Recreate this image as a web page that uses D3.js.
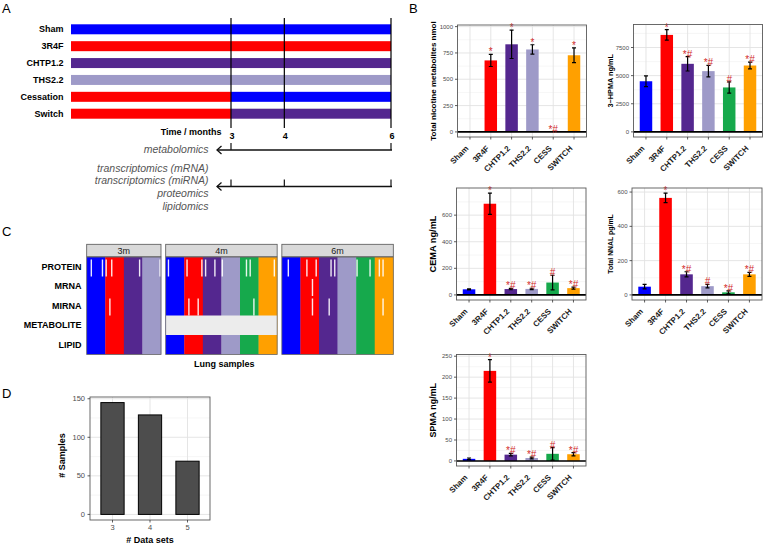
<!doctype html>
<html lang="en">
<head>
<meta charset="UTF-8" />
<title>Study design and exposure figure</title>
<script src="https://d3js.org/d3.v7.min.js"></script>
<style>
  html,body{margin:0;padding:0;background:#fff;}
  svg{display:block;font-family:"Liberation Sans",Arial,Helvetica,sans-serif;}
</style>
</head>
<body>
<div id="chart"></div>
<script>
/* ───── data ───── */
const groups      = ["Sham","3R4F","CHTP1.2","THS2.2","CESS","SWITCH"];
const groupColors = ["#0000ff","#ff0000","#54278f","#9e9ac8","#16a94c","#ffa000"];

// A – study design
const armLabels = ["Sham","3R4F","CHTP1.2","THS2.2","Cessation","Switch"];
const armBefore = ["Sham","3R4F","CHTP1.2","THS2.2","3R4F","3R4F"];     // 0–3 months
const armAfter  = ["Sham","3R4F","CHTP1.2","THS2.2","Sham","CHTP1.2"];  // 3–6 months
const timeTicks  = [3,4,6];
const metabTimes = [3,6];
const omicsTimes = [3,4,6];
const omicsNames = ["transcriptomics (mRNA)","transcriptomics (miRNA)","proteomics","lipidomics"];

// B – biomarkers of exposure
const nicMean  = [0,679,832,783,0,728];
const nicErr   = [0,58,135,45,0,70];
const nicSig   = ["","*","*","*","*#","*"];
const nicTicks = [0,250,500,750,1000];

const hpmaMean  = [4500,8620,6050,5400,3950,5900];
const hpmaErr   = [470,470,640,510,500,300];
const hpmaSig   = ["","*","*#","*#","#","*#"];
const hpmaTicks = [0,2500,5000,7500];

const cemaMean  = [42,686,44,45,93,51];
const cemaErr   = [4,80,5,5,55,8];
const cemaSig   = ["","*","*#","*#","#","*#"];
const cemaTicks = [0,200,400,600];

const nnalMean  = [48,566,120,51,15,120];
const nnalErr   = [13,28,15,10,9,12];
const nnalSig   = ["","*","*#","#","*#","*#"];
const nnalTicks = [0,200,400,600];

const spmaMean  = [5,215,15,7,17,16];
const spmaErr   = [2,27,3,2,15,4];
const spmaSig   = ["","*","*#","*#","#","*#"];
const spmaTicks = [0,50,100,150,200,250];

// C – sample overview
const facetNames      = ["3m","4m","6m"];
const facetGroupCount = [4,6,6];
const samplesPerGroup = 10;
const omicsRows = ["PROTEIN","MRNA","MIRNA","METABOLITE","LIPID"];
const sampleGaps = [
  ["3m","PROTEIN",2],["3m","PROTEIN",8],["3m","PROTEIN",10],["3m","PROTEIN",13],["3m","PROTEIN",28],["3m","PROTEIN",39],
  ["3m","MIRNA",12],
  ["4m","PROTEIN",1],["4m","PROTEIN",11],["4m","PROTEIN",19],["4m","PROTEIN",21],["4m","PROTEIN",26],["4m","PROTEIN",30],
  ["4m","PROTEIN",43],["4m","PROTEIN",45],["4m","PROTEIN",58],
  ["4m","MIRNA",12],["4m","MIRNA",17],["4m","MIRNA",47],
  ["6m","PROTEIN",3],["6m","PROTEIN",13],["6m","PROTEIN",18],["6m","PROTEIN",26],["6m","PROTEIN",28],["6m","PROTEIN",40],
  ["6m","PROTEIN",47],["6m","PROTEIN",52],["6m","PROTEIN",54],
  ["6m","MRNA",16],["6m","MIRNA",16],["6m","MIRNA",25],["6m","MIRNA",54]
];
const emptyRows = [["4m","METABOLITE"]];

// D – samples per number of data sets
const dataSetCounts = ["3","4","5"];
const sampleCounts  = [145,129,69];
const dTicks        = [0,50,100,150];

/* ───── setup ───── */
const W=764, H=545;
const svg=d3.select('#chart').append('svg').attr('width',W).attr('height',H);
const colorOf=d3.scaleOrdinal().domain(groups).range(groupColors);
['A','B','C','D'].forEach((t,i)=>{
  const pos=[[2,13],[409,13],[2,236],[2,398]][i];
  svg.append('text').attr('x',pos[0]).attr('y',pos[1]).style('font-size','13px').text(t);
});

/* ───── A: study design ───── */
const gA=svg.append('g');
const xTime=d3.scaleLinear().domain([0,6]).range([71,391]);
const yArm=d3.scaleBand().domain(armLabels).range([24.3,118.7]).paddingInner(0.408).paddingOuter(0);

armLabels.forEach((lab,i)=>{
  gA.append('rect').attr('x',xTime(0)).attr('y',yArm(lab)).attr('width',xTime(3)-xTime(0))
    .attr('height',yArm.bandwidth()).attr('fill',colorOf(armBefore[i]));
  gA.append('rect').attr('x',xTime(3)).attr('y',yArm(lab)).attr('width',xTime(6)-xTime(3))
    .attr('height',yArm.bandwidth()).attr('fill',colorOf(armAfter[i]));
  gA.append('text').attr('x',63.5).attr('y',yArm(lab)+yArm.bandwidth()/2+3.2)
    .attr('text-anchor','end').style('font-size','9px').style('font-weight','bold').text(lab);
});
timeTicks.forEach(t=>{
  gA.append('line').attr('x1',xTime(t)).attr('x2',xTime(t)).attr('y1',18).attr('y2',128)
    .attr('stroke','#000').attr('stroke-width',1.2);
  gA.append('text').attr('x',xTime(t)+1).attr('y',139).attr('text-anchor','middle')
    .style('font-size','9px').style('font-weight','bold').text(t);
});
gA.append('text').attr('x',221.5).attr('y',135).attr('text-anchor','end')
  .style('font-size','9px').style('font-weight','bold').text('Time / months');

function drawArrow(y,times){
  gA.append('line').attr('x1',217).attr('x2',xTime(6)+1).attr('y1',y).attr('y2',y)
    .attr('stroke','#111').attr('stroke-width',1.3);
  gA.append('path').attr('d',`M221.5,${y-4}L217,${y}L221.5,${y+4}`)
    .attr('fill','none').attr('stroke','#111').attr('stroke-width',1.3);
  times.forEach(t=>gA.append('line').attr('x1',xTime(t)).attr('x2',xTime(t))
    .attr('y1',y-7).attr('y2',y).attr('stroke','#111').attr('stroke-width',1.2));
}
drawArrow(150,metabTimes);
drawArrow(186.5,omicsTimes);
const italic=sel=>sel.attr('text-anchor','end').style('font-size','10.5px')
  .style('font-style','italic').attr('fill','#555');
gA.append('text').attr('x',208.5).attr('y',153).call(italic).text('metabolomics');
omicsNames.forEach((n,i)=>gA.append('text').attr('x',208.5).attr('y',171.5+i*12.8).call(italic).text(n));

/* ───── B: bar panels ───── */
function barPanel(cfg){
  const {x0,x1,y0,y1,means,errs,sigs,ticks,title,titleSize,titleX}=cfg;
  const g=svg.append('g');
  const x=d3.scaleBand().domain(groups).range([x0,x1]).paddingInner(0.4).paddingOuter(0.3);
  const hi=d3.max(means.map((m,i)=>m+errs[i])), pad=hi*0.05;
  const y=d3.scaleLinear().domain([-pad,hi+pad]).range([y1,y0]);
  const step=ticks[1]-ticks[0];
  const minor=d3.range(-1,ticks.length).map(i=>ticks[0]+step*(i+0.5))
    .filter(v=>v>y.domain()[0]&&v<y.domain()[1]);
  g.selectAll('.mi').data(minor).join('line').attr('x1',x0).attr('x2',x1)
    .attr('y1',d=>y(d)).attr('y2',d=>y(d)).attr('stroke','#f0f0f0').attr('stroke-width',0.6);
  g.selectAll('.ma').data(ticks).join('line').attr('x1',x0).attr('x2',x1)
    .attr('y1',d=>y(d)).attr('y2',d=>y(d)).attr('stroke','#e2e2e2').attr('stroke-width',0.9);
  const cx=d=>x(d)+x.bandwidth()/2;
  g.selectAll('.gx').data(groups).join('line').attr('x1',cx).attr('x2',cx)
    .attr('y1',y0).attr('y2',y1).attr('stroke','#e2e2e2').attr('stroke-width',0.9);
  g.selectAll('.bar').data(groups).join('rect')
    .attr('x',d=>x(d)).attr('width',x.bandwidth())
    .attr('y',(d,i)=>y(Math.max(0,means[i]))).attr('height',(d,i)=>Math.abs(y(0)-y(means[i])))
    .attr('fill',d=>colorOf(d));
  g.append('line').attr('x1',x0).attr('x2',x1).attr('y1',y(0)).attr('y2',y(0))
    .attr('stroke','#000').attr('stroke-width',1.6);
  groups.forEach((d,i)=>{
    if(!errs[i]) return;
    const c=cx(d), t=y(means[i]+errs[i]), b=y(Math.max(0,means[i]-errs[i]));
    g.append('path').attr('d',`M${c},${t}V${b}M${c-2},${t}H${c+2}M${c-2},${b}H${c+2}`)
      .attr('stroke','#000').attr('stroke-width',1.2).attr('fill','none');
  });
  groups.forEach((d,i)=>{
    if(!sigs[i]) return;
    g.append('text').attr('x',cx(d)).attr('y',y(means[i]+errs[i])+1)
      .attr('text-anchor','middle').attr('fill','#d22b2b').style('font-size','10px').text(sigs[i]);
  });
  g.append('rect').attr('x',x0).attr('y',y0).attr('width',x1-x0).attr('height',y1-y0)
    .attr('fill','none').attr('stroke','#5a5a5a').attr('stroke-width',0.9);
  ticks.forEach(v=>{
    g.append('line').attr('x1',x0-2.5).attr('x2',x0).attr('y1',y(v)).attr('y2',y(v)).attr('stroke','#333').attr('stroke-width',0.8);
    g.append('text').attr('x',x0-4.5).attr('y',y(v)+2).attr('text-anchor','end')
      .attr('fill','#4d4d4d').style('font-size','6px').text(v);
  });
  groups.forEach(d=>{
    g.append('line').attr('x1',cx(d)).attr('x2',cx(d)).attr('y1',y1).attr('y2',y1+2.5).attr('stroke','#333').attr('stroke-width',0.8);
    g.append('text').attr('transform',`translate(${cx(d)-1},${y1+12}) rotate(-45)`)
      .attr('text-anchor','end').attr('fill','#1a1a1a').style('font-size','8px').style('font-weight','bold').text(d);
  });
  g.append('text').attr('transform',`translate(${titleX},${(y0+y1)/2}) rotate(-90)`)
    .attr('text-anchor','middle').attr('dominant-baseline','central')
    .style('font-size',titleSize+'px').style('font-weight','bold').text(title);
}
barPanel({x0:457.5,x1:586.5,y0:25,y1:137,means:nicMean,errs:nicErr,sigs:nicSig,ticks:nicTicks,
  title:'Total nicotine metabolites nmol',titleSize:8,titleX:433});
barPanel({x0:633.5,x1:762.5,y0:24.5,y1:137,means:hpmaMean,errs:hpmaErr,sigs:hpmaSig,ticks:hpmaTicks,
  title:'3\u2212HPMA ng/mL',titleSize:7.3,titleX:610});
barPanel({x0:456.5,x1:586,y0:188,y1:300,means:cemaMean,errs:cemaErr,sigs:cemaSig,ticks:cemaTicks,
  title:'CEMA ng/mL',titleSize:9.2,titleX:433});
barPanel({x0:632,x1:762,y0:188,y1:300,means:nnalMean,errs:nnalErr,sigs:nnalSig,ticks:nnalTicks,
  title:'Total NNAL pg/mL',titleSize:6.9,titleX:610});
barPanel({x0:456.5,x1:586,y0:354.5,y1:466,means:spmaMean,errs:spmaErr,sigs:spmaSig,ticks:spmaTicks,
  title:'SPMA ng/mL',titleSize:8.9,titleX:433});

/* ───── C: samples per omics layer ───── */
const gC=svg.append('g');
const sampleW=74.3/40;
const yRow=d3.scaleBand().domain(omicsRows).range([257,354.5]);
let fx=86.7;
facetNames.forEach((f,fi)=>{
  const n=facetGroupCount[fi]*samplesPerGroup, w=n*sampleW;
  const xs=d3.scaleLinear().domain([0,n]).range([fx,fx+w]);
  groups.slice(0,facetGroupCount[fi]).forEach((grp,gi)=>{
    gC.append('rect').attr('x',xs(gi*samplesPerGroup)).attr('y',257)
      .attr('width',xs((gi+1)*samplesPerGroup)-xs(gi*samplesPerGroup)+0.3).attr('height',354.5-257)
      .attr('fill',colorOf(grp));
  });
  emptyRows.filter(e=>e[0]===f).forEach(e=>{
    gC.append('rect').attr('x',fx).attr('y',yRow(e[1])).attr('width',w).attr('height',yRow.bandwidth())
      .attr('fill','#ececec');
  });
  sampleGaps.filter(s=>s[0]===f).forEach(s=>{
    gC.append('rect').attr('x',xs(s[2])+0.2).attr('y',yRow(s[1])+2.5).attr('width',1.4)
      .attr('height',yRow.bandwidth()-2.5).attr('fill','#fff').attr('opacity',0.9);
  });
  gC.append('rect').attr('x',fx).attr('y',257).attr('width',w).attr('height',354.5-257)
    .attr('fill','none').attr('stroke','#666').attr('stroke-width',0.8);
  gC.append('rect').attr('x',fx).attr('y',244.3).attr('width',w).attr('height',12.4)
    .attr('fill','#d9d9d9').attr('stroke','#555').attr('stroke-width',0.8);
  gC.append('text').attr('x',fx+w/2).attr('y',253.7).attr('text-anchor','middle')
    .attr('fill','#1a1a1a').style('font-size','9px').text(f);
  fx+=w+4.7;
});
omicsRows.forEach(r=>gC.append('text').attr('x',81.5).attr('y',yRow(r)+yRow.bandwidth()/2+3.2)
  .attr('text-anchor','end').style('font-size','9px').style('font-weight','bold').text(r));
gC.append('text').attr('x',194).attr('y',367).style('font-size','9px').style('font-weight','bold').text('Lung samples');

/* ───── D: samples per number of data sets ───── */
const gD=svg.append('g');
const dx0=90, dx1=210, dy0=397, dy1=520;
const xD=d3.scaleBand().domain(dataSetCounts).range([dx0,dx1]).paddingInner(0.38).paddingOuter(0.29);
const dHi=d3.max(sampleCounts), dPad=dHi*0.05;
const yD=d3.scaleLinear().domain([-dPad,dHi+dPad]).range([dy1,dy0]);
const dMinor=[25,75,125];
gD.selectAll('.mi').data(dMinor).join('line').attr('x1',dx0).attr('x2',dx1)
  .attr('y1',d=>yD(d)).attr('y2',d=>yD(d)).attr('stroke','#f0f0f0').attr('stroke-width',0.6);
gD.selectAll('.ma').data(dTicks).join('line').attr('x1',dx0).attr('x2',dx1)
  .attr('y1',d=>yD(d)).attr('y2',d=>yD(d)).attr('stroke','#e2e2e2').attr('stroke-width',0.9);
const cxD=d=>xD(d)+xD.bandwidth()/2;
gD.selectAll('.gx').data(dataSetCounts).join('line').attr('x1',cxD).attr('x2',cxD)
  .attr('y1',dy0).attr('y2',dy1).attr('stroke','#e2e2e2').attr('stroke-width',0.9);
gD.selectAll('.bar').data(dataSetCounts).join('rect')
  .attr('x',d=>xD(d)).attr('width',xD.bandwidth())
  .attr('y',(d,i)=>yD(sampleCounts[i])).attr('height',(d,i)=>yD(0)-yD(sampleCounts[i]))
  .attr('fill','#4d4d4d').attr('stroke','#000').attr('stroke-width',1);
gD.append('rect').attr('x',dx0).attr('y',dy0).attr('width',dx1-dx0).attr('height',dy1-dy0)
  .attr('fill','none').attr('stroke','#5a5a5a').attr('stroke-width',0.9);
dTicks.forEach(v=>{
  gD.append('line').attr('x1',dx0-2.5).attr('x2',dx0).attr('y1',yD(v)).attr('y2',yD(v)).attr('stroke','#333').attr('stroke-width',0.8);
  gD.append('text').attr('x',dx0-5).attr('y',yD(v)+2.6).attr('text-anchor','end')
    .attr('fill','#4d4d4d').style('font-size','7.5px').text(v);
});
dataSetCounts.forEach(d=>{
  gD.append('line').attr('x1',cxD(d)).attr('x2',cxD(d)).attr('y1',dy1).attr('y2',dy1+2.5).attr('stroke','#333').attr('stroke-width',0.8);
  gD.append('text').attr('x',cxD(d)).attr('y',dy1+9.5).attr('text-anchor','middle')
    .attr('fill','#4d4d4d').style('font-size','7.5px').text(d);
});
gD.append('text').attr('x',(dx0+dx1)/2).attr('y',543).attr('text-anchor','middle')
  .style('font-size','9px').style('font-weight','bold').text('# Data sets');
gD.append('text').attr('transform',`translate(61.5,${(dy0+dy1)/2-3}) rotate(-90)`)
  .attr('text-anchor','middle').attr('dominant-baseline','central')
  .style('font-size','9px').style('font-weight','bold').text('# Samples');
</script>
</body>
</html>
